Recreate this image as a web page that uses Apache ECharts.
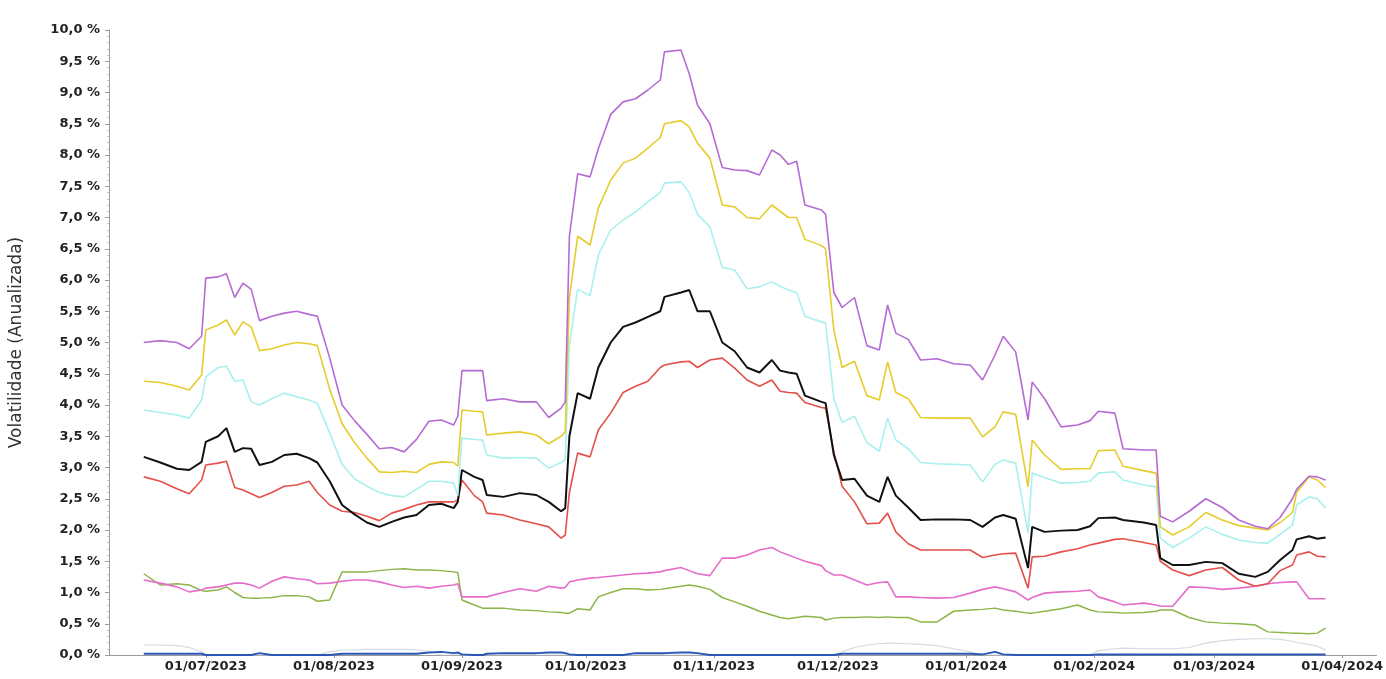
<!DOCTYPE html>
<html><head><meta charset="utf-8">
<script src="https://cdn.jsdelivr.net/npm/echarts@6/dist/echarts.min.js"></script>
<style>html,body{margin:0;padding:0;background:#fff}#c{width:1386px;height:679px}</style>
</head><body><div id="c"></div>
<script>
const dates=['2023-06-16','2023-06-20','2023-06-24','2023-06-27','2023-06-30',
'2023-07-01','2023-07-04','2023-07-06','2023-07-08','2023-07-10','2023-07-12','2023-07-14','2023-07-17','2023-07-20','2023-07-23','2023-07-26','2023-07-28','2023-07-31',
'2023-08-03','2023-08-06','2023-08-09','2023-08-12','2023-08-15','2023-08-18','2023-08-21','2023-08-24','2023-08-27','2023-08-30','2023-08-31',
'2023-09-01','2023-09-04','2023-09-06','2023-09-07','2023-09-11','2023-09-15','2023-09-19','2023-09-22','2023-09-25','2023-09-26','2023-09-27','2023-09-29',
'2023-10-02','2023-10-04','2023-10-07','2023-10-10','2023-10-13','2023-10-16','2023-10-19','2023-10-20','2023-10-24','2023-10-26','2023-10-28','2023-10-31',
'2023-11-03','2023-11-06','2023-11-09','2023-11-12','2023-11-15','2023-11-17','2023-11-19','2023-11-21','2023-11-23','2023-11-27','2023-11-28','2023-11-30',
'2023-12-02','2023-12-05','2023-12-08','2023-12-11','2023-12-13','2023-12-15','2023-12-18','2023-12-21','2023-12-25','2023-12-29',
'2024-01-02','2024-01-05','2024-01-08','2024-01-10','2024-01-13','2024-01-16','2024-01-17','2024-01-20','2024-01-24','2024-01-28','2024-01-31',
'2024-02-02','2024-02-06','2024-02-08','2024-02-13','2024-02-16','2024-02-17','2024-02-20','2024-02-24','2024-02-28',
'2024-03-03','2024-03-07','2024-03-11','2024-03-14','2024-03-17','2024-03-20','2024-03-21','2024-03-24','2024-03-26','2024-03-28'];

const purple=[5.0,5.03,5.0,4.9,5.1,
6.03,6.05,6.1,5.72,5.95,5.85,5.35,5.42,5.47,5.5,5.45,5.42,4.75,
4.0,3.75,3.53,3.3,3.32,3.25,3.45,3.74,3.76,3.68,3.82,
4.55,4.55,4.55,4.07,4.1,4.05,4.05,3.8,3.95,4.05,6.7,7.7,
7.65,8.1,8.65,8.85,8.9,9.04,9.2,9.65,9.68,9.3,8.8,8.5,
7.8,7.76,7.75,7.68,8.08,8.0,7.85,7.9,7.2,7.12,7.05,5.8,
5.56,5.72,4.95,4.88,5.6,5.15,5.05,4.72,4.74,4.66,
4.64,4.4,4.8,5.1,4.85,3.76,4.37,4.1,3.65,3.68,3.75,
3.9,3.87,3.3,3.28,3.28,2.22,2.13,2.3,2.5,
2.36,2.16,2.06,2.02,2.2,2.5,2.65,2.86,2.85,2.8];

const yellow=[4.38,4.36,4.3,4.24,4.48,
5.2,5.28,5.36,5.12,5.33,5.25,4.87,4.9,4.96,5.0,4.98,4.95,4.25,
3.7,3.4,3.15,2.93,2.92,2.94,2.92,3.05,3.09,3.08,3.02,
3.92,3.9,3.89,3.52,3.55,3.57,3.52,3.38,3.5,3.57,5.72,6.7,
6.56,7.15,7.6,7.87,7.95,8.11,8.28,8.5,8.55,8.45,8.19,7.95,
7.2,7.17,7.0,6.98,7.2,7.1,7.0,7.0,6.65,6.55,6.5,5.2,
4.6,4.7,4.15,4.08,4.69,4.2,4.1,3.8,3.79,3.79,
3.79,3.49,3.65,3.89,3.85,2.69,3.44,3.2,2.97,2.98,2.98,
3.27,3.28,3.02,2.95,2.91,2.05,1.92,2.05,2.28,
2.16,2.07,2.03,2.0,2.12,2.28,2.6,2.85,2.8,2.68];

const cyan=[3.92,3.88,3.84,3.79,4.08,
4.45,4.6,4.62,4.38,4.4,4.05,4.0,4.1,4.19,4.13,4.08,4.03,3.55,
3.05,2.82,2.7,2.6,2.55,2.53,2.65,2.78,2.78,2.75,2.55,
3.47,3.45,3.44,3.2,3.15,3.16,3.15,2.99,3.08,3.12,4.96,5.85,
5.75,6.4,6.8,6.96,7.09,7.25,7.4,7.55,7.57,7.4,7.05,6.85,
6.2,6.16,5.86,5.89,5.97,5.9,5.84,5.8,5.42,5.33,5.31,4.1,
3.72,3.82,3.4,3.26,3.79,3.44,3.3,3.08,3.06,3.05,
3.04,2.77,3.05,3.12,3.07,1.95,2.91,2.84,2.75,2.76,2.78,
2.91,2.93,2.8,2.72,2.69,1.87,1.72,1.87,2.05,
1.93,1.84,1.8,1.79,1.93,2.08,2.4,2.53,2.5,2.35];

const black=[3.17,3.08,2.98,2.96,3.09,
3.41,3.5,3.63,3.25,3.31,3.3,3.04,3.09,3.2,3.22,3.15,3.08,2.78,
2.4,2.25,2.12,2.05,2.13,2.2,2.24,2.4,2.42,2.35,2.45,
2.96,2.85,2.8,2.56,2.53,2.59,2.56,2.45,2.3,2.35,3.5,4.19,
4.1,4.6,5.0,5.25,5.32,5.41,5.5,5.73,5.8,5.84,5.5,5.5,
5.0,4.86,4.6,4.52,4.72,4.55,4.52,4.5,4.15,4.05,4.03,3.2,
2.8,2.82,2.55,2.45,2.85,2.55,2.36,2.16,2.17,2.17,
2.16,2.05,2.2,2.24,2.18,1.39,2.05,1.97,1.99,2.0,2.06,
2.19,2.2,2.16,2.12,2.08,1.55,1.44,1.44,1.49,
1.47,1.3,1.25,1.33,1.52,1.68,1.85,1.9,1.86,1.88];

const red=[2.85,2.78,2.66,2.58,2.8,
3.04,3.07,3.1,2.68,2.64,2.58,2.52,2.6,2.7,2.72,2.78,2.6,2.4,
2.3,2.28,2.22,2.15,2.27,2.33,2.4,2.45,2.45,2.45,2.48,
2.8,2.55,2.45,2.27,2.24,2.16,2.1,2.05,1.87,1.92,2.6,3.23,
3.17,3.6,3.87,4.2,4.3,4.38,4.6,4.64,4.69,4.7,4.6,4.72,
4.75,4.59,4.4,4.3,4.4,4.22,4.2,4.19,4.04,3.96,3.95,3.25,
2.7,2.45,2.1,2.11,2.27,1.97,1.78,1.68,1.68,1.68,
1.68,1.56,1.6,1.62,1.63,1.07,1.57,1.58,1.65,1.7,1.76,
1.79,1.85,1.86,1.8,1.76,1.5,1.36,1.27,1.36,
1.4,1.2,1.1,1.14,1.35,1.44,1.6,1.65,1.58,1.57];

const pink=[1.2,1.15,1.09,1.01,1.04,
1.07,1.09,1.12,1.15,1.15,1.12,1.07,1.18,1.25,1.22,1.2,1.14,1.15,
1.18,1.2,1.2,1.17,1.12,1.08,1.1,1.07,1.1,1.12,1.14,
0.93,0.93,0.93,0.93,1.0,1.06,1.02,1.1,1.07,1.08,1.17,1.2,
1.23,1.24,1.26,1.28,1.3,1.31,1.33,1.35,1.4,1.35,1.3,1.27,
1.55,1.55,1.6,1.68,1.72,1.65,1.6,1.55,1.5,1.43,1.35,1.28,
1.28,1.2,1.12,1.16,1.17,0.93,0.93,0.92,0.91,0.92,
0.99,1.05,1.09,1.06,1.01,0.88,0.92,0.99,1.01,1.02,1.04,
0.93,0.85,0.8,0.83,0.8,0.78,0.78,1.09,1.08,
1.05,1.07,1.1,1.14,1.16,1.17,1.17,0.9,0.9,0.9];

const green=[1.3,1.12,1.14,1.12,1.03,
1.02,1.04,1.09,1.0,0.92,0.91,0.91,0.92,0.95,0.95,0.93,0.86,0.88,
1.33,1.33,1.33,1.35,1.37,1.38,1.36,1.36,1.35,1.33,1.32,
0.88,0.8,0.75,0.75,0.75,0.72,0.71,0.69,0.68,0.67,0.67,0.74,
0.72,0.93,1.0,1.06,1.06,1.04,1.05,1.06,1.1,1.12,1.1,1.05,
0.92,0.85,0.78,0.7,0.64,0.6,0.58,0.6,0.62,0.6,0.56,0.59,
0.6,0.6,0.61,0.6,0.61,0.6,0.6,0.53,0.53,0.7,
0.72,0.73,0.75,0.72,0.7,0.67,0.67,0.7,0.74,0.8,0.72,
0.69,0.68,0.67,0.68,0.7,0.72,0.72,0.6,0.53,
0.51,0.5,0.48,0.37,0.36,0.35,0.35,0.34,0.35,0.43];

const blue=[0.02,0.02,0.02,0.02,0.02,
0,0,0,0,0,0,0.03,0,0,0,0,0,0,
0.02,0.02,0.02,0.02,0.02,0.02,0.02,0.04,0.05,0.03,0.04,
0.01,0,0,0.02,0.03,0.03,0.03,0.04,0.04,0.03,0.01,0,
0,0,0,0,0.03,0.03,0.03,0.03,0.04,0.04,0.03,0,
0,0,0,0,0,0,0,0,0,0,0,0,
0.02,0.02,0.02,0.02,0.02,0.02,0.02,0.02,0.02,0.02,
0.02,0.01,0.05,0.01,0,0,0,0,0,0,0,
0.01,0.01,0.01,0.01,0.01,0.01,0.01,0.01,0.01,
0.01,0.01,0.01,0.01,0.01,0.01,0.01,0.01,0.01,0.01];

const lightGray=[0.16,0.16,0.15,0.12,0.05,
0,0,0,0,0,0,0,0,0,0,0,0,0.05,
0.08,0.08,0.09,0.09,0.09,0.09,0.08,0.06,0,0,0,
0,0,0,0,0,0,0,0,0,0,0,0,
0,0,0,0,0,0,0,0,0,0,0,0,
0,0,0,0,0,0,0,0,0,0,0,0,
0.05,0.12,0.16,0.18,0.19,0.19,0.18,0.17,0.15,0.1,
0.05,0,0,0,0,0,0,0,0,0,0,
0.07,0.1,0.11,0.1,0.1,0.1,0.1,0.12,0.19,
0.23,0.25,0.26,0.26,0.25,0.22,0.2,0.17,0.14,0.08];

const monthTicks=['2023-07-01','2023-08-01','2023-09-01','2023-10-01','2023-11-01','2023-12-01',
'2024-01-01','2024-02-01','2024-03-01','2024-04-01'];
const yAxisTitle='Volatilidade (Anualizada)';

function ts(s){const p=s.split('-').map(Number);return Date.UTC(p[0],p[1]-1,p[2]);}
function pad(n){return (n<10?'0':'')+n;}
function fmtDate(v){const d=new Date(v);return pad(d.getUTCDate())+'/'+pad(d.getUTCMonth()+1)+'/'+d.getUTCFullYear();}
function mk(name,arr,color,width){
  return {name:name,type:'line',showSymbol:false,symbol:'none',animation:false,
    lineStyle:{color:color,width:width},itemStyle:{color:color},
    data:dates.map((d,i)=>[ts(d),arr[i]])};
}
const tickVals=monthTicks.map(ts);
const chart=echarts.init(document.getElementById('c'),null,{renderer:'canvas'});
chart.setOption({
  animation:false,
  backgroundColor:'#ffffff',
  grid:{left:108,right:8,top:30,bottom:24},
  xAxis:{type:'value',
    min:ts('2023-06-07')+14*3600000,max:ts('2024-04-09')+8*3600000,
    axisLine:{show:true,lineStyle:{color:'#9a9a9a',width:1}},
    axisTick:{show:true,length:3,customValues:tickVals,lineStyle:{color:'#9a9a9a'}},
    axisLabel:{customValues:tickVals,formatter:fmtDate,color:'#222',fontSize:13,fontWeight:'bold',
      fontFamily:'DejaVu Sans',margin:5},
    splitLine:{show:false}},
  yAxis:{type:'value',min:0,max:10,interval:0.5,
    name:yAxisTitle,nameLocation:'middle',nameGap:84,
    nameTextStyle:{fontSize:17,color:'#333',fontFamily:'DejaVu Sans'},
    axisLine:{show:true,lineStyle:{color:'#9a9a9a',width:1}},
    axisTick:{show:true,length:4,lineStyle:{color:'#9a9a9a'}},
    minorTick:{show:true,splitNumber:5,length:2,lineStyle:{color:'#c8c8c8'}},
    axisLabel:{formatter:v=>v.toFixed(1).replace('.',',')+' %',color:'#222',fontSize:13,
      fontWeight:'bold',fontFamily:'DejaVu Sans',margin:9},
    splitLine:{show:false}},
  series:[
    mk('Cinza',lightGray,'#d3dae3',1.2),
    mk('Azul',blue,'#2a56b8',2),
    mk('Verde',green,'#8cb548',1.5),
    mk('Rosa',pink,'#e56cc9',1.6),
    mk('Vermelho',red,'#e4504a',1.6),
    mk('Preto',black,'#111111',2),
    mk('Ciano',cyan,'#a9f0ee',1.6),
    mk('Amarelo',yellow,'#e6cc2c',1.6),
    mk('Roxo',purple,'#b56bd3',1.6)
  ]
});
</script></body></html>
